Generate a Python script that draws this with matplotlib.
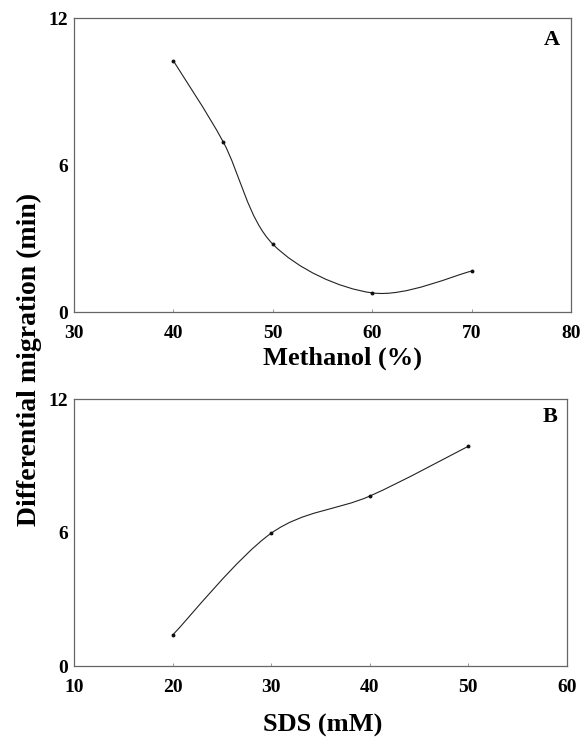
import numpy as np
import matplotlib.pyplot as plt
from matplotlib.path import Path
from matplotlib.patches import PathPatch

plt.rcParams['font.family'] = 'Liberation Serif'
plt.rcParams['font.weight'] = 'bold'

methanol = [40, 45, 50, 60, 70]
migration_a = [10.25, 6.95, 2.77, 0.78, 1.67]

sds = [20, 30, 40, 50]
migration_b = [1.39, 5.97, 7.64, 9.88]


def smooth_path(x, y):
    # Catmull-Rom through the points, as cubic Bezier segments
    p = np.column_stack([x, y]).astype(float)
    p = np.vstack([p[0], p, p[-1]])
    verts = [p[1]]
    codes = [Path.MOVETO]
    for i in range(1, len(p) - 2):
        c1 = p[i] + (p[i + 1] - p[i - 1]) / 6
        c2 = p[i + 1] - (p[i + 2] - p[i]) / 6
        verts += [c1, c2, p[i + 1]]
        codes += [Path.CURVE4] * 3
    return Path(verts, codes)


fig = plt.figure(figsize=(5.8, 7.42), dpi=100)
ax1 = fig.add_axes([0.1276, 0.5795, 0.857, 0.3962])
ax2 = fig.add_axes([0.1276, 0.1024, 0.850, 0.3598])

panels = [
    (ax1, methanol, migration_a, (30, 80), [30, 40, 50, 60, 70, 80]),
    (ax2, sds, migration_b, (10, 60), [10, 20, 30, 40, 50, 60]),
]

for ax, x, y, xlim, xticks in panels:
    ax.add_patch(PathPatch(smooth_path(x, y), facecolor='none', edgecolor='#222222', lw=0.8))
    ax.plot(x, y, 'o', color='#111111', ms=1.8)
    ax.set_xlim(*xlim)
    ax.set_ylim(0, 12)
    ax.set_xticks(xticks)
    ax.set_yticks([0, 6, 12])
    ax.tick_params(axis='x', direction='in', length=2, width=0.6, color='#888888', labelsize=14, pad=9)
    ax.tick_params(axis='y', direction='in', length=0, labelsize=14, pad=4)
    for s in ax.spines.values():
        s.set_color('#666666')
        s.set_linewidth(0.9)

fig.text(0.9517, 0.946, 'A', ha='center', va='center', fontsize=16, fontweight='bold')
fig.text(0.948, 0.438, 'B', ha='center', va='center', fontsize=16, fontweight='bold')
fig.text(0.5897, 0.5175, 'Methanol (%)', ha='center', va='center', fontsize=19, fontweight='bold')
fig.text(0.557, 0.0229, 'SDS (mM)', ha='center', va='center', fontsize=19, fontweight='bold')
fig.text(0.05, 0.515, 'Differential migration (min)', rotation=90, ha='center', va='center',
         fontsize=20, fontweight='bold')

fig.savefig('out.png', dpi=100)
